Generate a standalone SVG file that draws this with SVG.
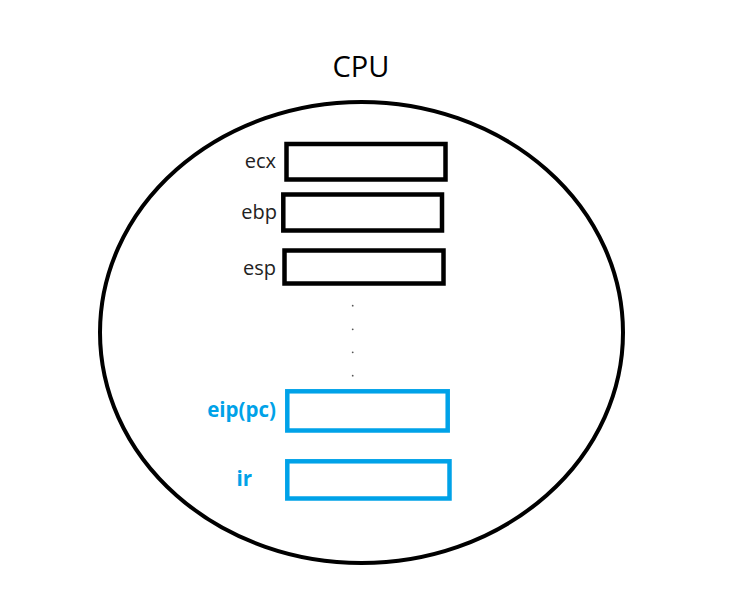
<svg xmlns="http://www.w3.org/2000/svg" width="755" height="613" viewBox="0 0 755 613">
<style>
.lbl{font-family:"Open Sans","Noto Sans","Liberation Sans",sans-serif;font-size:20px;fill:#222;text-anchor:end}
.blbl{font-family:"Open Sans","Noto Sans","Liberation Sans",sans-serif;font-size:20.5px;font-weight:bold;fill:#00a2e8;text-anchor:end}
.reg{fill:#fff;stroke:#000;stroke-width:4.5}
.breg{fill:#fff;stroke:#00a2e8;stroke-width:4.5}
.dot{fill:#555}
</style>
<rect width="755" height="613" fill="#fff"/>
<text x="361" y="77" font-family="'Open Sans','Noto Sans','Liberation Sans',sans-serif" font-size="29" fill="#000" text-anchor="middle">CPU</text>
<g id="cpu"><ellipse cx="361.5" cy="332.5" rx="261.5" ry="230.5" fill="none" stroke="#000" stroke-width="4"/></g>
<g id="ecx"><rect class="reg" x="286.5" y="144" width="159" height="35.5"/><text class="lbl" x="276" y="168">ecx</text></g>
<g id="ebp"><rect class="reg" x="283.3" y="194.5" width="158.7" height="36"/><text class="lbl" x="277" y="219">ebp</text></g>
<g id="esp"><rect class="reg" x="284.5" y="250.5" width="159" height="33"/><text class="lbl" x="276" y="275">esp</text></g>
<g id="dots"><circle class="dot" cx="352.7" cy="305.7" r="0.9"/><circle class="dot" cx="352.7" cy="329.3" r="0.9"/><circle class="dot" cx="352.7" cy="352.3" r="0.9"/><circle class="dot" cx="352.7" cy="375.7" r="0.9"/></g>
<g id="eip"><rect class="breg" x="287.3" y="391.3" width="160.4" height="39.2"/><text class="blbl" x="276" y="417">eip(pc)</text></g>
<g id="ir"><rect class="breg" x="287.3" y="461.3" width="162.2" height="37.2"/><text class="blbl" x="252" y="486">ir</text></g>
<g id="connectors"></g>
</svg>
